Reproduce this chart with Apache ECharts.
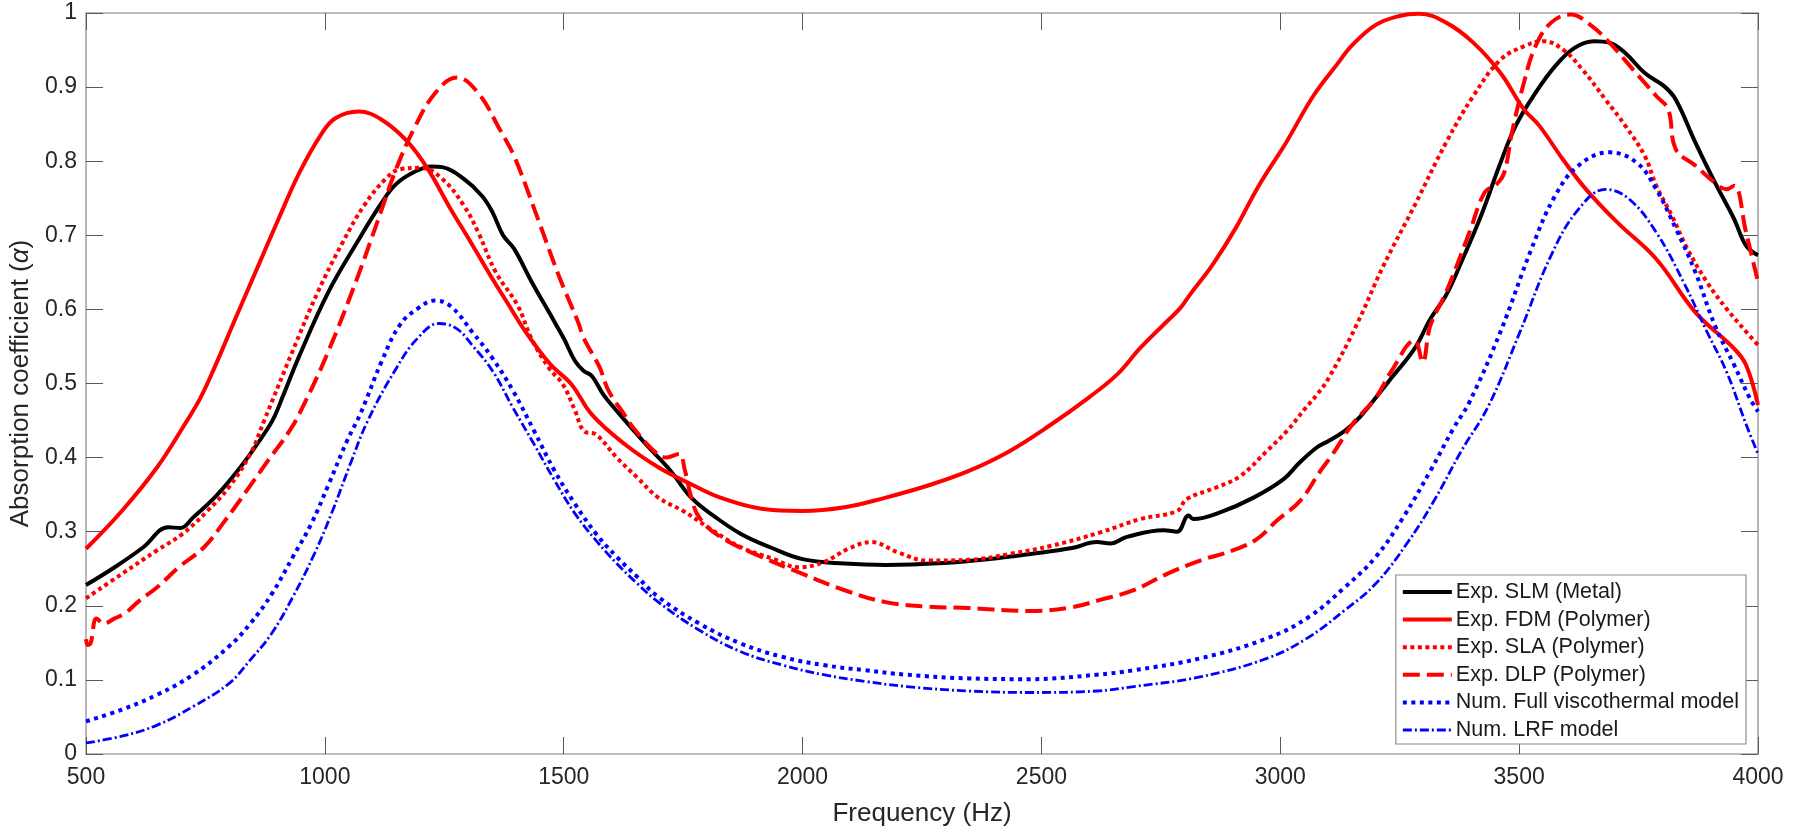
<!DOCTYPE html>
<html>
<head>
<meta charset="utf-8">
<title>Absorption coefficient</title>
<script src="https://cdn.jsdelivr.net/npm/echarts@6/dist/echarts.min.js"></script>
<style>
  html, body { margin: 0; padding: 0; background: #fff; }
  #chart { width: 1805px; height: 832px; }
</style>
</head>
<body>
<div id="chart"></div>
<script>
// Measured absorption coefficient vs frequency, [Hz, alpha]
const slmMetal = [
  [500,0.228],[560,0.252],[620,0.279],[672,0.306],[698,0.305],[724,0.319],[769,0.346],
  [806,0.373],[844,0.405],[881,0.44],[895,0.456],[911,0.481],[947,0.538],[1007,0.623],
  [1067,0.69],[1119,0.744],[1149,0.769],[1186,0.785],[1224,0.793],[1246,0.792],
  [1291,0.776],[1329,0.753],[1351,0.731],[1373,0.70],[1396,0.682],[1433,0.637],
  [1472,0.593],[1500,0.561],[1524,0.53],[1542,0.517],[1559,0.51],[1583,0.485],
  [1611,0.463],[1672,0.418],[1724,0.382],[1767,0.346],[1819,0.319],[1871,0.297],
  [1932,0.279],[2000,0.263],[2088,0.257],[2174,0.255],[2304,0.258],[2391,0.263],
  [2478,0.27],[2564,0.278],[2616,0.286],[2644,0.284],[2679,0.293],[2756,0.302],
  [2784,0.30],[2808,0.322],[2818,0.317],[2874,0.326],[2944,0.346],[3007,0.371],
  [3040,0.393],[3077,0.414],[3100,0.422],[3135,0.436],[3167,0.455],[3216,0.494],
  [3232,0.507],[3281,0.547],[3314,0.587],[3347,0.619],[3379,0.664],[3420,0.726],
  [3461,0.798],[3493,0.848],[3534,0.892],[3575,0.928],[3616,0.953],[3657,0.962],
  [3689,0.96],[3722,0.946],[3763,0.919],[3804,0.901],[3828,0.883],[3869,0.825],
  [3910,0.771],[3950,0.722],[3975,0.686],[4000,0.673]
];

const fdmPolymer = [
  [500,0.277],[575,0.328],[649,0.387],[702,0.44],[739,0.48],[768,0.52],[813,0.588],
  [858,0.655],[903,0.722],[947,0.785],[992,0.836],[1022,0.858],[1071,0.867],
  [1119,0.856],[1172,0.827],[1216,0.789],[1261,0.738],[1306,0.69],[1351,0.641],
  [1381,0.61],[1420,0.57],[1472,0.526],[1516,0.499],[1559,0.458],[1628,0.418],
  [1698,0.387],[1767,0.364],[1828,0.346],[1914,0.331],[2000,0.328],[2088,0.333],
  [2174,0.346],[2261,0.362],[2348,0.382],[2434,0.409],[2521,0.445],[2599,0.481],
  [2658,0.512],[2707,0.548],[2763,0.584],[2791,0.602],[2811,0.62],[2857,0.659],
  [2906,0.709],[2955,0.767],[3012,0.825],[3069,0.888],[3118,0.93],[3151,0.957],
  [3200,0.984],[3249,0.996],[3290,0.999],[3347,0.987],[3404,0.96],[3461,0.919],
  [3510,0.87],[3542,0.848],[3591,0.803],[3640,0.762],[3706,0.717],[3787,0.668],
  [3869,0.596],[3950,0.547],[3975,0.525],[4000,0.471]
];

const slaPolymer = [
  [500,0.21],[575,0.243],[649,0.275],[702,0.297],[754,0.328],[799,0.36],[844,0.405],
  [873,0.45],[932,0.543],[985,0.623],[1037,0.69],[1082,0.74],[1127,0.776],[1157,0.789],
  [1201,0.791],[1246,0.776],[1291,0.74],[1321,0.704],[1358,0.65],[1403,0.606],
  [1433,0.56],[1470,0.52],[1498,0.499],[1524,0.463],[1542,0.436],[1568,0.431],
  [1611,0.40],[1654,0.373],[1698,0.346],[1750,0.328],[1802,0.306],[1871,0.279],
  [1940,0.263],[1991,0.252],[2044,0.259],[2096,0.277],[2144,0.286],[2200,0.272],
  [2261,0.261],[2348,0.262],[2434,0.27],[2521,0.281],[2623,0.299],[2707,0.317],
  [2784,0.328],[2804,0.344],[2867,0.36],[2916,0.375],[2972,0.409],[3014,0.436],
  [3053,0.467],[3077,0.485],[3102,0.508],[3159,0.578],[3216,0.659],[3281,0.74],
  [3347,0.825],[3404,0.888],[3461,0.937],[3510,0.955],[3551,0.962],[3591,0.951],
  [3632,0.924],[3681,0.883],[3722,0.848],[3763,0.807],[3787,0.767],[3820,0.726],
  [3852,0.682],[3893,0.637],[3934,0.601],[3975,0.57],[4000,0.552]
];

const dlpPolymer = [
  [500,0.155],[504,0.147],[510,0.15],[522,0.183],[537,0.176],[560,0.183],[582,0.19],
  [612,0.207],[649,0.225],[694,0.252],[747,0.279],[791,0.315],[836,0.355],[881,0.396],
  [926,0.436],[955,0.47],[1007,0.543],[1067,0.641],[1112,0.722],[1149,0.789],
  [1186,0.843],[1231,0.892],[1276,0.913],[1321,0.892],[1366,0.843],[1396,0.807],
  [1441,0.731],[1490,0.645],[1530,0.583],[1542,0.561],[1575,0.522],[1594,0.49],
  [1627,0.458],[1646,0.44],[1689,0.409],[1715,0.40],[1741,0.405],[1754,0.382],
  [1767,0.346],[1784,0.319],[1828,0.293],[1914,0.266],[2000,0.243],[2088,0.221],
  [2174,0.205],[2261,0.199],[2348,0.197],[2478,0.193],[2564,0.198],[2623,0.208],
  [2693,0.221],[2763,0.243],[2832,0.261],[2902,0.275],[2951,0.29],[2993,0.315],
  [3042,0.342],[3084,0.382],[3110,0.405],[3151,0.445],[3200,0.481],[3232,0.516],
  [3281,0.558],[3298,0.529],[3314,0.578],[3347,0.623],[3396,0.704],[3428,0.758],
  [3453,0.769],[3469,0.785],[3485,0.839],[3510,0.906],[3534,0.955],[3567,0.987],
  [3608,0.998],[3649,0.984],[3689,0.96],[3738,0.924],[3787,0.888],[3812,0.87],
  [3828,0.816],[3869,0.794],[3910,0.771],[3934,0.762],[3950,0.767],[3975,0.704],
  [4000,0.637]
];

// Numerical predictions
const fullViscothermal = [
  [500,0.044],[575,0.06],[649,0.08],[724,0.107],[799,0.145],[844,0.176],[889,0.216],
  [933,0.266],[971,0.31],[1008,0.364],[1046,0.422],[1075,0.46],[1119,0.53],[1157,0.579],
  [1194,0.601],[1231,0.612],[1264,0.604],[1308,0.57],[1351,0.534],[1394,0.49],
  [1438,0.436],[1481,0.382],[1524,0.337],[1568,0.297],[1611,0.266],[1654,0.239],
  [1698,0.212],[1784,0.176],[1871,0.149],[1958,0.131],[2044,0.12],[2131,0.113],
  [2218,0.107],[2348,0.102],[2478,0.101],[2616,0.107],[2693,0.113],[2832,0.129],
  [2972,0.156],[3060,0.185],[3135,0.225],[3200,0.266],[3257,0.319],[3314,0.382],
  [3363,0.44],[3396,0.475],[3461,0.57],[3526,0.682],[3575,0.753],[3624,0.794],
  [3689,0.812],[3746,0.798],[3787,0.762],[3828,0.709],[3869,0.65],[3910,0.578],
  [3950,0.525],[3983,0.48],[4000,0.462]
];

const lrfModel = [
  [500,0.015],[575,0.024],[649,0.039],[724,0.064],[799,0.095],[844,0.127],[889,0.163],
  [933,0.212],[978,0.27],[1016,0.328],[1053,0.391],[1090,0.45],[1149,0.52],[1194,0.561],
  [1239,0.581],[1276,0.574],[1308,0.552],[1351,0.517],[1394,0.467],[1438,0.418],
  [1481,0.369],[1524,0.324],[1568,0.288],[1611,0.257],[1654,0.23],[1698,0.205],
  [1784,0.167],[1871,0.138],[1958,0.12],[2044,0.107],[2131,0.098],[2218,0.091],
  [2348,0.085],[2478,0.083],[2616,0.085],[2693,0.091],[2832,0.104],[2972,0.129],
  [3053,0.155],[3135,0.194],[3200,0.23],[3265,0.284],[3322,0.342],[3379,0.409],
  [3436,0.47],[3502,0.57],[3567,0.673],[3624,0.735],[3681,0.762],[3730,0.749],
  [3787,0.704],[3844,0.637],[3893,0.57],[3934,0.516],[3975,0.445],[4000,0.405]
];

const seriesNames = [
  'Exp. SLM (Metal)',
  'Exp. FDM (Polymer)',
  'Exp. SLA (Polymer)',
  'Exp. DLP (Polymer)',
  'Num. Full viscothermal model',
  'Num. LRF model'
];

const FONT = '"Liberation Sans", Arial, Helvetica, sans-serif';
const AXIS_LINE = '#a6a6a6';
const TICK = '#5a5a5a';
const TEXT = '#262626';

// line look for each series: colour, width, dash pattern
const styles = [
  { color: '#000000', width: 4, type: 'solid' },
  { color: '#ff0000', width: 4, type: 'solid' },
  { color: '#ff0000', width: 4, type: [4, 3.5] },
  { color: '#ff0000', width: 4, type: [17, 7] },
  { color: '#0000ff', width: 4, type: [4, 4.5] },
  { color: '#0000ff', width: 2.8, type: [9, 3, 2, 3] }
];

function curve(i, data) {
  const s = styles[i];
  return {
    name: seriesNames[i],
    type: 'line',
    data: data,
    symbol: 'none',
    smooth: 0.4,
    xAxisIndex: 0,
    yAxisIndex: 0,
    lineStyle: { color: s.color, width: s.width, type: s.type, cap: 'butt', join: 'round' },
    itemStyle: { color: s.color },
    emphasis: { disabled: true }
  };
}

function boxAxis(pos, isX, showLabels) {
  const ax = {
    type: 'value',
    position: pos,
    axisLine: { show: true, onZero: false, lineStyle: { color: AXIS_LINE, width: 1.6 } },
    axisTick: { show: true, inside: true, length: 17, lineStyle: { color: TICK, width: 1 } },
    splitLine: { show: false },
    axisLabel: {
      show: showLabels,
      color: TEXT,
      fontFamily: FONT,
      fontSize: 23,
      margin: isX ? 12 : 9,
      formatter: isX ? (v => String(v)) : (v => String(Math.round(v * 10) / 10))
    }
  };
  if (isX) {
    Object.assign(ax, { min: 500, max: 4000, interval: 500 });
  } else {
    Object.assign(ax, { min: 0, max: 1, interval: 0.1 });
  }
  return ax;
}

const xMain = boxAxis('bottom', true, true);
Object.assign(xMain, {
  name: 'Frequency (Hz)',
  nameLocation: 'middle',
  nameGap: 47,
  nameTextStyle: { color: TEXT, fontFamily: FONT, fontSize: 26 }
});
const xTop = boxAxis('top', true, false);

const yMain = boxAxis('left', false, true);
Object.assign(yMain, {
  name: 'Absorption coefficient ({a|α})',
  nameLocation: 'middle',
  nameGap: 42,
  nameRotate: 90,
  nameTextStyle: {
    color: TEXT, fontFamily: FONT, fontSize: 26,
    rich: { a: { fontFamily: FONT, fontSize: 26, fontStyle: 'italic', color: TEXT } }
  }
});
const yRight = boxAxis('right', false, false);

const legendItems = seriesNames.map((name, i) => ({
  name: name,
  lineStyle: { width: styles[i].width, type: styles[i].type, color: styles[i].color, cap: 'butt' }
}));

const chart = echarts.init(document.getElementById('chart'), null, { renderer: 'canvas' });
chart.setOption({
  animation: false,
  backgroundColor: '#ffffff',
  grid: { left: 86, top: 13, right: 47, bottom: 75 },
  xAxis: [xMain, xTop],
  yAxis: [yMain, yRight],
  legend: {
    data: legendItems,
    orient: 'vertical',
    right: 59,
    top: 575,
    backgroundColor: '#ffffff',
    borderColor: '#8c8c8c',
    borderWidth: 1.2,
    padding: [5, 7, 2, 5],
    itemWidth: 49,
    itemHeight: 14,
    itemGap: 3.6,
    selectedMode: false,
    itemStyle: { opacity: 0 },
    textStyle: { color: '#1a1a1a', fontFamily: FONT, fontSize: 21.5, lineHeight: 24, padding: [0, 0, 0, -1] }
  },
  series: [
    curve(0, slmMetal),
    curve(1, fdmPolymer),
    curve(2, slaPolymer),
    curve(3, dlpPolymer),
    curve(4, fullViscothermal),
    curve(5, lrfModel)
  ]
});
</script>
</body>
</html>
